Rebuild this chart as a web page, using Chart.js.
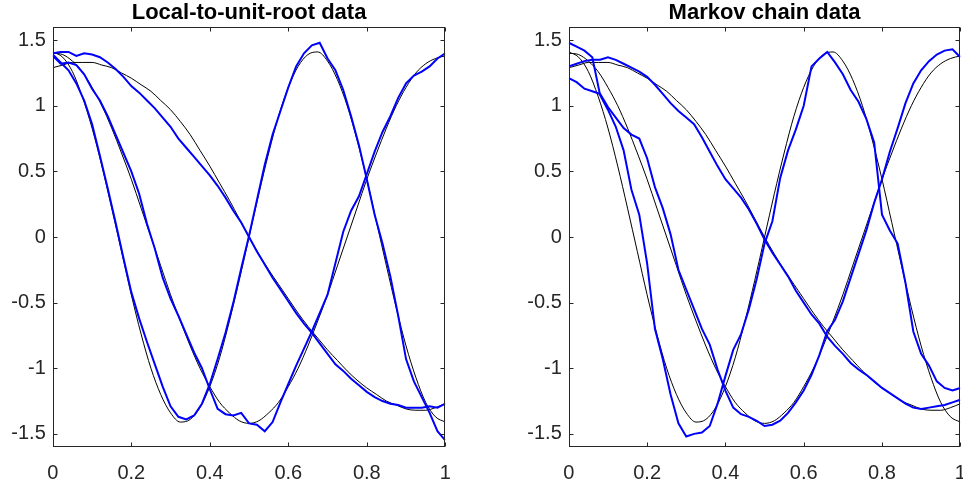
<!DOCTYPE html>
<html>
<head>
<meta charset="utf-8">
<script src="https://cdn.jsdelivr.net/npm/chart.js@4"></script>
<style>
    html, body { margin: 0; padding: 0; background: #fff; overflow: hidden; }
    .panel { position: absolute; top: 0; width: 480px; height: 487px; }
</style>
</head>
<body>
<div class="panel" style="left:0"><canvas id="localChart" width="480" height="487"></canvas></div>
<div class="panel" style="left:516px"><canvas id="markovChart" width="480" height="487"></canvas></div>
<script>
// Tick labels
const xTicks = [0, 0.2, 0.4, 0.6, 0.8, 1];
const yTicks = [-1.5, -1, -0.5, 0, 0.5, 1, 1.5];

// Grid of the true eigenfunctions (black)
const xsTrue = [0, 0.025, 0.05, 0.075, 0.1, 0.125, 0.15, 0.175, 0.2, 0.225, 0.25, 0.275, 0.3, 0.325, 0.35, 0.375, 0.4,
    0.425, 0.45, 0.475, 0.5, 0.525, 0.55, 0.575, 0.6, 0.625, 0.65, 0.675, 0.7, 0.725, 0.75, 0.775, 0.8, 0.825, 0.85,
    0.875, 0.9, 0.925, 0.95, 0.975, 1];
const trueFirst = [1.29, 1.31, 1.33, 1.33, 1.33, 1.31, 1.29, 1.25, 1.21, 1.16, 1.11, 1.04, 0.97, 0.88, 0.78, 0.66, 0.54,
    0.41, 0.28, 0.14, 0.00, -0.13, -0.25, -0.36, -0.47, -0.58, -0.68, -0.77, -0.86, -0.94, -1.02, -1.09, -1.15, -1.20,
    -1.25, -1.28, -1.31, -1.32, -1.32, -1.30, -1.27];
const trueSecond = [1.40, 1.39, 1.34, 1.26, 1.14, 1.00, 0.83, 0.64, 0.44, 0.22, 0.00, -0.22, -0.44, -0.64, -0.83, -1.00,
    -1.14, -1.26, -1.34, -1.40, -1.42, -1.40, -1.34, -1.26, -1.14, -1.00, -0.83, -0.64, -0.44, -0.22, 0.00, 0.22, 0.44,
    0.64, 0.83, 1.00, 1.14, 1.25, 1.32, 1.36, 1.38];
const trueThird = [1.41, 1.37, 1.26, 1.07, 0.83, 0.54, 0.22, -0.11, -0.44, -0.74, -1.00, -1.20, -1.34, -1.41, -1.39,
    -1.30, -1.14, -0.92, -0.64, -0.33, 0.00, 0.33, 0.64, 0.92, 1.14, 1.30, 1.39, 1.41, 1.34, 1.20, 1.00, 0.74, 0.44,
    0.11, -0.22, -0.54, -0.83, -1.07, -1.26, -1.37, -1.41];

// Grid of the estimated eigenfunctions (blue)
const xsEst = [0, 0.02, 0.04, 0.06, 0.08, 0.1, 0.12, 0.14, 0.16, 0.18, 0.2, 0.22, 0.24, 0.26, 0.28, 0.3, 0.32, 0.34,
    0.36, 0.38, 0.4, 0.42, 0.44, 0.46, 0.48, 0.5, 0.52, 0.54, 0.56, 0.58, 0.6, 0.62, 0.64, 0.66, 0.68, 0.7, 0.72, 0.74,
    0.76, 0.78, 0.8, 0.82, 0.84, 0.86, 0.88, 0.9, 0.92, 0.94, 0.96, 0.98, 1];

// Local-to-unit-root data
const localEst1 = [1.40, 1.41, 1.41, 1.38, 1.40, 1.39, 1.37, 1.33, 1.28, 1.22, 1.15, 1.10, 1.04, 0.98, 0.91, 0.84, 0.75,
    0.68, 0.61, 0.54, 0.47, 0.39, 0.30, 0.20, 0.11, 0.00, -0.11, -0.21, -0.31, -0.40, -0.49, -0.58, -0.66, -0.73, -0.81,
    -0.89, -0.97, -1.02, -1.08, -1.13, -1.18, -1.22, -1.25, -1.27, -1.28, -1.30, -1.30, -1.30, -1.29, -1.30, -1.27];
const localEst2 = [1.38, 1.32, 1.33, 1.31, 1.24, 1.13, 1.04, 0.92, 0.78, 0.64, 0.50, 0.33, 0.10, -0.09, -0.31, -0.47,
    -0.60, -0.74, -0.88, -1.00, -1.16, -1.31, -1.35, -1.36, -1.34, -1.42, -1.43, -1.48, -1.41, -1.26, -1.12, -0.98, -0.85,
    -0.72, -0.58, -0.44, -0.20, 0.04, 0.20, 0.31, 0.48, 0.65, 0.80, 0.92, 1.06, 1.17, 1.23, 1.26, 1.30, 1.36, 1.40];
const localEst3 = [1.39, 1.33, 1.27, 1.17, 1.04, 0.86, 0.62, 0.37, 0.11, -0.16, -0.42, -0.62, -0.80, -0.97, -1.14, -1.29,
    -1.37, -1.39, -1.36, -1.27, -1.12, -0.93, -0.73, -0.50, -0.24, 0.01, 0.28, 0.55, 0.78, 0.96, 1.14, 1.30, 1.40, 1.46,
    1.48, 1.36, 1.27, 1.12, 0.92, 0.70, 0.44, 0.17, -0.05, -0.30, -0.60, -0.93, -1.10, -1.22, -1.34, -1.48, -1.55];

// Markov chain data
const markovEst1 = [1.30, 1.32, 1.34, 1.35, 1.35, 1.37, 1.35, 1.32, 1.29, 1.26, 1.22, 1.16, 1.09, 1.02, 0.96, 0.91, 0.86,
    0.76, 0.65, 0.54, 0.44, 0.37, 0.30, 0.21, 0.10, -0.02, -0.12, -0.21, -0.30, -0.41, -0.50, -0.59, -0.66, -0.76, -0.83,
    -0.89, -0.96, -1.01, -1.05, -1.10, -1.15, -1.19, -1.23, -1.27, -1.30, -1.31, -1.30, -1.29, -1.28, -1.26, -1.24];
const markovEst2 = [1.21, 1.18, 1.13, 1.11, 1.09, 0.99, 0.91, 0.83, 0.78, 0.75, 0.60, 0.38, 0.22, 0.02, -0.25, -0.40,
    -0.55, -0.70, -0.82, -1.01, -1.17, -1.30, -1.35, -1.37, -1.40, -1.44, -1.43, -1.40, -1.34, -1.26, -1.17, -1.05, -0.90,
    -0.72, -0.63, -0.49, -0.31, -0.13, 0.05, 0.26, 0.44, 0.65, 0.83, 1.02, 1.17, 1.27, 1.34, 1.39, 1.42, 1.43, 1.37];
const markovEst3 = [1.48, 1.45, 1.42, 1.37, 1.08, 0.97, 0.84, 0.66, 0.36, 0.17, -0.20, -0.70, -0.93, -1.20, -1.42, -1.52,
    -1.50, -1.49, -1.44, -1.27, -1.06, -0.86, -0.74, -0.55, -0.32, -0.05, 0.12, 0.45, 0.66, 0.82, 1.00, 1.30, 1.36, 1.41,
    1.33, 1.24, 1.12, 1.03, 0.90, 0.72, 0.17, 0.05, -0.05, -0.35, -0.72, -0.89, -0.98, -1.10, -1.15, -1.17, -1.15];

const AXIS_COLOR = '#262626';
const FONT_FAMILY = "'Liberation Sans', Arial, sans-serif";
const AXIS_LEFT = 52.8;
const AXIS_BOTTOM = 40;
const AXIS_TOP = 27;

// Draws the box round the axes, the inward ticks on all four sides,
// and the title centred over the plot area (as MATLAB does)
const boxPlugin = {
    id: 'axisBox',
    afterDatasetsDraw(chart, args, opts) {
        const { ctx, chartArea: a, scales } = chart;
        const L = Math.round(a.left) + 0.5, R = Math.round(a.right) - 0.5;
        const T = Math.round(a.top) + 0.5, B = Math.round(a.bottom) - 0.5;
        const len = 4;
        ctx.save();
        ctx.strokeStyle = AXIS_COLOR;
        ctx.lineWidth = 1;
        ctx.strokeRect(L, T, R - L, B - T);
        ctx.beginPath();
        xTicks.forEach(v => {
            const px = Math.round(scales.x.getPixelForValue(v)) + 0.5;
            ctx.moveTo(px, B); ctx.lineTo(px, B - len);
            ctx.moveTo(px, T); ctx.lineTo(px, T + len);
        });
        yTicks.forEach(v => {
            const py = Math.round(scales.y.getPixelForValue(v)) + 0.5;
            ctx.moveTo(L, py); ctx.lineTo(L + len, py);
            ctx.moveTo(R, py); ctx.lineTo(R - len, py);
        });
        ctx.stroke();

        ctx.fillStyle = '#000';
        ctx.font = 'bold 22px ' + FONT_FAMILY;
        ctx.textAlign = 'center';
        ctx.textBaseline = 'middle';
        ctx.fillText(opts.text, (a.left + a.right) / 2, 13);
        ctx.restore();
    }
};

function points(xs, ys) {
    return xs.map((x, i) => ({ x: x, y: ys[i] }));
}

function makePanel(canvasId, title, estimates, areaWidth) {
    const datasets = [];
    estimates.forEach(est => {
        datasets.push({
            data: points(xsEst, est),
            borderColor: '#0000ff',
            borderWidth: 2,
            pointRadius: 0,
            tension: 0,
            order: 0
        });
    });
    [trueFirst, trueSecond, trueThird].forEach(tr => {
        datasets.push({
            data: points(xsTrue, tr),
            borderColor: '#000000',
            borderWidth: 1,
            pointRadius: 0,
            cubicInterpolationMode: 'monotone',
            order: 1
        });
    });

    const tickFont = { family: FONT_FAMILY, size: 20 };

    return new Chart(document.getElementById(canvasId), {
        type: 'line',
        data: { datasets: datasets },
        options: {
            responsive: false,
            animation: false,
            devicePixelRatio: 1,
            layout: {
                padding: { left: 0, right: 480 - AXIS_LEFT - areaWidth, top: AXIS_TOP, bottom: 0 }
            },
            plugins: {
                legend: { display: false },
                tooltip: { enabled: false },
                title: { display: false },
                axisBox: { text: title }
            },
            scales: {
                x: {
                    type: 'linear',
                    min: 0,
                    max: 1,
                    grid: { display: false, drawTicks: false },
                    border: { display: false },
                    afterBuildTicks: s => { s.ticks = xTicks.map(v => ({ value: v })); },
                    afterFit: s => { s.height = AXIS_BOTTOM; },
                    ticks: {
                        color: AXIS_COLOR,
                        font: tickFont,
                        padding: 14,
                        maxRotation: 0,
                        autoSkip: false,
                        callback: v => String(v)
                    }
                },
                y: {
                    min: -1.6,
                    max: 1.6,
                    grid: { display: false, drawTicks: false },
                    border: { display: false },
                    afterBuildTicks: s => { s.ticks = yTicks.map(v => ({ value: v })); },
                    afterFit: s => { s.width = AXIS_LEFT; },
                    ticks: {
                        color: AXIS_COLOR,
                        font: tickFont,
                        padding: 7,
                        autoSkip: false,
                        callback: v => String(v)
                    }
                }
            }
        },
        plugins: [boxPlugin]
    });
}

makePanel('localChart', 'Local-to-unit-root data', [localEst1, localEst2, localEst3], 392.5);
makePanel('markovChart', 'Markov chain data', [markovEst1, markovEst2, markovEst3], 391.5);
</script>
</body>
</html>
